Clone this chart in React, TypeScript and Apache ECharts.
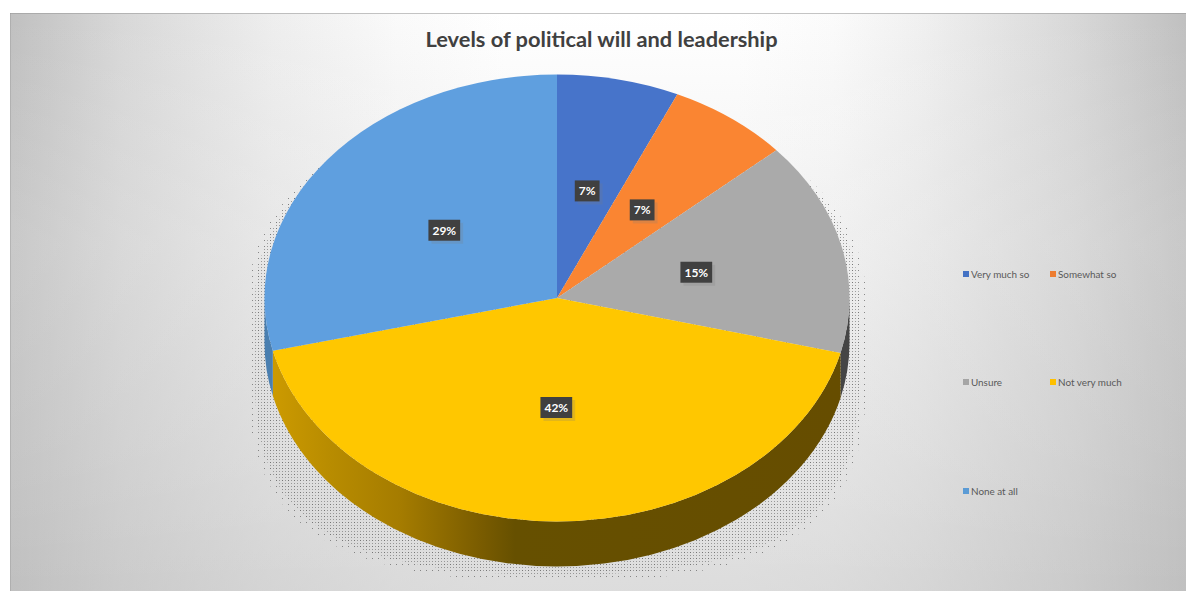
import React, { useEffect, useRef } from "react";
import * as echarts from "echarts";

const CHART_TITLE = "Levels of political will and leadership";
const categories = ["Very much so", "Somewhat so", "Unsure", "Not very much", "None at all"];
const shares = [6.75, 6.75, 15.45, 42.25, 28.8];

const legendColors = ["#4472c4", "#ed7d31", "#a5a5a5", "#ffc000", "#5b9bd5"];
const faceColors = ["#4774ca", "#fa8532", "#aaaaaa", "#ffc700", "#5f9fdf"];
const wallColors = ["#2f4f8a", "#a85520", "#454545", "#664d00", "#4a7fb0"];

const legendColumns = [963, 1050];
const legendRows = [269, 377, 486];

// Geometry of the tilted disc
const CX = 557;
const CY = 298;
const RX = 292.5;
const RY = 223.5;
const DEPTH = 45;
const LABEL_RADIUS = 0.49;

const total = shares.reduce((a, b) => a + b, 0);

const toAngle = (share: number) => (share / total) * Math.PI * 2;
const px = (a: number) => CX + RX * Math.sin(a);
const py = (a: number) => CY - RY * Math.cos(a);

function sectorPath(a0: number, a1: number) {
  const large = a1 - a0 > Math.PI ? 1 : 0;
  return `M${CX} ${CY}L${px(a0)} ${py(a0)}A${RX} ${RY} 0 ${large} 1 ${px(a1)} ${py(a1)}Z`;
}

function wallPath(a0: number, a1: number) {
  const s = Math.max(a0, Math.PI / 2);
  const e = Math.min(a1, (Math.PI * 3) / 2);
  if (e <= s) return null;
  const large = e - s > Math.PI ? 1 : 0;
  return (
    `M${px(s)} ${py(s)}A${RX} ${RY} 0 ${large} 1 ${px(e)} ${py(e)}` +
    `L${px(e)} ${py(e) + DEPTH}A${RX} ${RY} 0 ${large} 0 ${px(s)} ${py(s) + DEPTH}Z`
  );
}

function wallFill(index: number) {
  if (index !== 3) return wallColors[index];
  // The front wall darkens from the left rim to the middle of the disc
  const stops: [number, string][] = [
    [273, "#cc9a00"],
    [330, "#b88c00"],
    [400, "#a57c00"],
    [480, "#7a5c00"],
    [515, "#665000"],
    [840, "#664d00"],
  ];
  return {
    type: "linear",
    global: true,
    x: 273,
    y: 0,
    x2: 840,
    y2: 0,
    colorStops: stops.map(([x, color]) => ({ offset: (x - 273) / (840 - 273), color })),
  };
}

function stippleTile(step: number, color: string) {
  const tile = document.createElement("canvas");
  tile.width = step;
  tile.height = step;
  const ctx = tile.getContext("2d")!;
  ctx.fillStyle = color;
  ctx.fillRect(0, 0, 1, 1);
  return { image: tile, repeat: "repeat" };
}

// Outline of the drop shadow: flat sides, a domed top hidden behind the disc,
// and a squarish lower curve. `inset` pulls the outline towards the disc.
function shadowOutline(inset: number) {
  const rx = RX + 16.5 - inset;
  const top = CY;
  const shoulder = CY + 87;
  const domeRy = 205;
  const lowerRy = 197 - inset;
  const k = 0.72;
  const l = CX - rx;
  const r = CX + rx;
  return (
    `M${l} ${top}A${rx} ${domeRy} 0 0 1 ${r} ${top}L${r} ${shoulder}` +
    `C${r} ${shoulder + lowerRy * k} ${CX + rx * k} ${shoulder + lowerRy} ${CX} ${shoulder + lowerRy}` +
    `C${CX - rx * k} ${shoulder + lowerRy} ${l} ${shoulder + lowerRy * k} ${l} ${shoulder}Z`
  );
}

const makeRenderItem = (index: number) => (_params: any, api: any) => {
  const value = api.value(0) as number;
  const before = shares.slice(0, index).reduce((a, b) => a + b, 0);
  const a0 = toAngle(before);
  const a1 = a0 + toAngle(value);
  const mid = (a0 + a1) / 2;
  const children: any[] = [];
  const wall = wallPath(a0, a1);
  if (wall) {
    children.push({
      type: "path",
      shape: { pathData: wall },
      style: { fill: wallFill(index) },
    });
  }
  children.push({
    type: "path",
    shape: { pathData: sectorPath(a0, a1) },
    style: { fill: faceColors[index] },
  });
  children.push({
    type: "text",
    z2: 100,
    x: CX + RX * LABEL_RADIUS * Math.sin(mid),
    y: CY - RY * LABEL_RADIUS * Math.cos(mid),
    style: {
      text: `${Math.round(value)}%`,
      fill: "#ffffff",
      font: "bold 12px Lato",
      align: "center",
      verticalAlign: "middle",
      backgroundColor: "#404040",
      padding: [5, 4, 4, 4],
      shadowBlur: 1,
      shadowColor: "rgba(120,120,120,0.22)",
      shadowOffsetX: 3,
      shadowOffsetY: 3,
    },
  });
  return { type: "group", children };
};

const backgroundStops: [number, string][] = [
  [0, "#c0c0c0"],
  [0.094, "#d8d8d8"],
  [0.223, "#eeeeee"],
  [0.33, "#fafafa"],
  [0.42, "#ffffff"],
  [0.62, "#ffffff"],
  [0.7, "#fbfbfb"],
  [0.777, "#f0f0f0"],
  [0.906, "#d8d8d8"],
  [1, "#c0c0c0"],
];

export default function App() {
  const ref = useRef<HTMLDivElement>(null);

  useEffect(() => {
    const chart = echarts.init(ref.current!, undefined, { renderer: "svg" });
    const sparse = stippleTile(6, "rgba(95,95,95,0.7)");
    const dense = stippleTile(3, "rgba(105,105,105,0.6)");
    chart.setOption({
      animation: false,
      backgroundColor: "#ffffff",
      title: {
        text: CHART_TITLE,
        left: 596.5,
        top: 22,
        textAlign: "center",
        textStyle: { fontFamily: "Lato", fontWeight: "bold", fontSize: 21.8, color: "#404040" },
      },
      legend: categories.map((name, i) => ({
        data: [name],
        left: legendColumns[i % 2],
        top: legendRows[Math.floor(i / 2)],
        icon: "rect",
        itemWidth: 6,
        itemHeight: 6,
        padding: 0,
        selectedMode: false,
        textStyle: { fontFamily: "Lato", fontSize: 9.9, color: "#595959", padding: [0, 0, 0, -3] },
      })),
      graphic: [
        {
          type: "rect",
          z: -10,
          shape: { x: 10, y: 13, width: 1176, height: 578 },
          style: {
            fill: {
              type: "linear",
              x: 0,
              y: 0,
              x2: 1,
              y2: 0,
              colorStops: backgroundStops.map(([offset, color]) => ({ offset, color })),
            },
          },
        },
        {
          type: "rect",
          z: -9,
          shape: { x: 10, y: 13, width: 1176, height: 578 },
          style: {
            fill: {
              type: "linear",
              x: 0,
              y: 0,
              x2: 0,
              y2: 1,
              colorStops: [
                { offset: 0, color: "rgba(192,192,192,0)" },
                { offset: 1, color: "rgba(192,192,192,0.55)" },
              ],
            },
          },
        },
        {
          type: "rect",
          z: -8,
          shape: { x: 10, y: 13, width: 1176, height: 578 },
          style: {
            fill: {
              type: "linear",
              x: 0,
              y: 0,
              x2: 0,
              y2: 1,
              colorStops: [
                { offset: 0, color: "rgba(255,255,255,0)" },
                { offset: 0.4, color: "rgba(255,255,255,0.14)" },
                { offset: 0.75, color: "rgba(255,255,255,0.08)" },
                { offset: 1, color: "rgba(255,255,255,0)" },
              ],
            },
          },
        },
        {
          type: "line",
          z: -7,
          shape: { x1: 10, y1: 13.5, x2: 1186, y2: 13.5 },
          style: { stroke: "rgba(150,150,150,0.55)", lineWidth: 1 },
        },
        {
          type: "line",
          z: -7,
          shape: { x1: 10.5, y1: 13, x2: 10.5, y2: 591 },
          style: { stroke: "rgba(150,150,150,0.4)", lineWidth: 1 },
        },
      ],
      series: [
        {
          type: "custom",
          name: "Disc shadow",
          coordinateSystem: "none",
          silent: true,
          z: 1,
          data: [[0]],
          renderItem: () => ({
            type: "group",
            children: [
              { type: "path", shape: { pathData: shadowOutline(0) }, style: { fill: sparse } },
              { type: "path", shape: { pathData: shadowOutline(7) }, style: { fill: dense } },
            ],
          }),
        },
        ...categories.map((name, i) => ({
          type: "custom",
          name,
          coordinateSystem: "none",
          itemStyle: { color: legendColors[i] },
          data: [[shares[i]]],
          renderItem: makeRenderItem(i),
        })),
      ],
    });
    return () => chart.dispose();
  }, []);

  return (
    <div
      ref={ref}
      style={{ position: "absolute", left: 0, top: 0, width: 1186, height: 591 }}
    />
  );
}
